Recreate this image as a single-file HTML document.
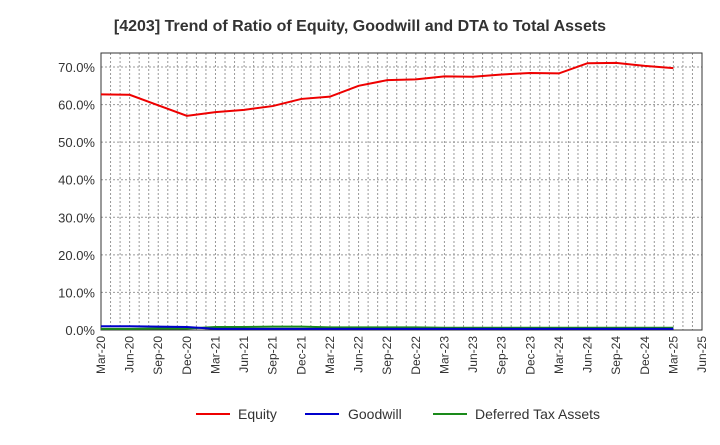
<!DOCTYPE html>
<html><head><meta charset="utf-8"><style>
body{margin:0;background:#fff;font-family:"Liberation Sans",sans-serif}
</style></head><body>
<svg id="c" width="720" height="440" xmlns="http://www.w3.org/2000/svg">
<text x="360" y="31" text-anchor="middle" font-size="16" font-weight="bold" fill="#333">[4203]  Trend of Ratio of Equity, Goodwill and DTA to Total Assets</text>
<g id="grid"></g><g id="axes"></g><g id="series"></g>
<g>
<line x1="196" y1="414" x2="230" y2="414" stroke="#e00" stroke-width="2"/><text x="238" y="419" font-size="14" fill="#333">Equity</text>
<line x1="305" y1="414" x2="339" y2="414" stroke="#00c" stroke-width="2"/><text x="348" y="419" font-size="14" fill="#333">Goodwill</text>
<line x1="433" y1="414" x2="467" y2="414" stroke="#1a8a1a" stroke-width="2"/><text x="475" y="419" font-size="14" fill="#333">Deferred Tax Assets</text>
</g>
</svg>
<script>
const xLabels=["Mar-20","Jun-20","Sep-20","Dec-20","Mar-21","Jun-21","Sep-21","Dec-21","Mar-22","Jun-22","Sep-22","Dec-22","Mar-23","Jun-23","Sep-23","Dec-23","Mar-24","Jun-24","Sep-24","Dec-24","Mar-25","Jun-25"];
const yTicks=[0,10,20,30,40,50,60,70];
const equity=[62.7,62.6,59.8,57.0,58.0,58.6,59.6,61.5,62.1,65.0,66.5,66.7,67.5,67.4,68.0,68.4,68.3,71.0,71.1,70.3,69.7];
const goodwill=[1.0,1.0,0.9,0.8,0.3,0.3,0.3,0.3,0.3,0.3,0.3,0.3,0.3,0.3,0.3,0.3,0.3,0.3,0.3,0.3,0.3];
const dta=[0.3,0.3,0.4,0.4,0.8,0.8,0.9,0.9,0.7,0.7,0.7,0.7,0.6,0.6,0.6,0.6,0.6,0.6,0.6,0.6,0.6];
const L=101,R=702,T=53,B=330;
const X=i=>L+i*(R-L)/21, Y=v=>B-v*(B-67)/70;
const ns="http://www.w3.org/2000/svg";
function mk(p,t,a){const e=document.createElementNS(ns,t);for(const k in a)e.setAttribute(k,a[k]);document.getElementById(p).appendChild(e);return e;}
for(let m=1;m<63;m++){const x=L+m*(R-L)/63;const g=mk('grid','line',{x1:x,y1:T,x2:x,y2:B,stroke:'#999','stroke-dasharray':'2,2','stroke-width':1});

}
yTicks.forEach(v=>{const y=Y(v);const g=mk('grid','line',{x1:L,y1:y,x2:R,y2:y,stroke:'#999','stroke-dasharray':'2,2'});


const t=mk('axes','text',{x:L-6,y:y+5,'text-anchor':'end','font-size':13,fill:'#333'});t.textContent=v.toFixed(1)+'%';

});
const fr=mk('axes','rect',{x:L,y:T,width:R-L,height:B-T,fill:'none',stroke:'#333'});


xLabels.forEach((s,i)=>{const x=X(i);const t=mk('axes','text',{x:x+4,y:B+6,'text-anchor':'end','font-size':12,fill:'#333',transform:`rotate(-90 ${x+4} ${B+6})`});t.textContent=s;

});
[[dta,'#1a8a1a','dta-line'],[goodwill,'#00c','goodwill-line'],[equity,'#e00','equity-line']].forEach(([d,c,n])=>{
const p=mk('series','polyline',{points:d.map((v,i)=>X(i)+','+Y(v)).join(' '),fill:'none',stroke:c,'stroke-width':2});

});
</script>
</body></html>
